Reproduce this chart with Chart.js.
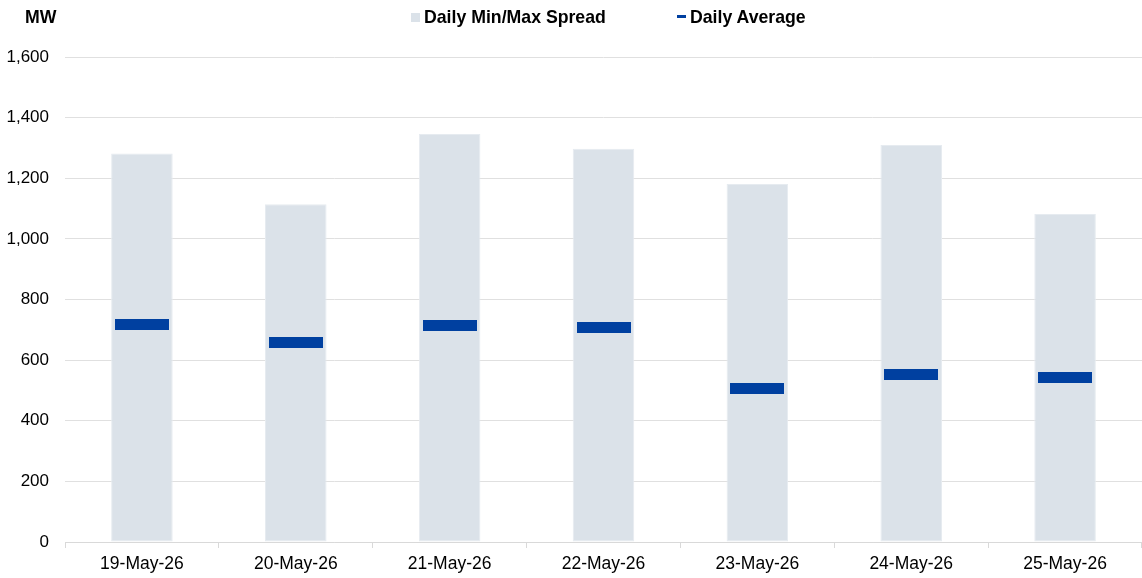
<!DOCTYPE html>
<html lang="en">
<head>
    <meta charset="UTF-8">
    <title>Daily Min/Max Spread</title>
    <script src="https://cdn.jsdelivr.net/npm/chart.js"></script>
    <style>
        body {
            margin: 0;
            overflow: hidden;
            background: #ffffff;
            font-family: "Liberation Sans", Arial, sans-serif;
        }
        .wrap {
            position: relative;
            width: 1147px;
            height: 578px;
        }
        .unit {
            position: absolute;
            left: 25px;
            top: 7px;
            font-weight: bold;
            font-size: 17.7px;
            color: #000;
        }
        .legend {
            position: absolute;
            top: 7px;
            font-weight: bold;
            font-size: 17.7px;
            color: #000;
            white-space: nowrap;
        }
        .legend .box {
            display: inline-block;
            width: 9px;
            height: 9px;
            background: #dbe2e9;
            margin-right: 4px;
            vertical-align: 1px;
        }
        .legend .dash {
            display: inline-block;
            width: 9px;
            height: 3px;
            background: #0040a0;
            margin-right: 4px;
            vertical-align: 5px;
        }
    </style>
</head>
<body>
    <div class="wrap">
        <canvas id="spreadChart" width="1147" height="578"></canvas>
        <div class="unit">MW</div>
        <div class="legend" style="left: 411px;"><span class="box"></span>Daily Min/Max Spread</div>
        <div class="legend" style="left: 677px;"><span class="dash"></span>Daily Average</div>
    </div>
    <script>
        // данные с картинки
        const days = ['19-May-26', '20-May-26', '21-May-26', '22-May-26', '23-May-26', '24-May-26', '25-May-26'];
        const dailyMin = [0, 0, 0, 0, 0, 0, 0];
        const dailyMax = [1282, 1114, 1346, 1297, 1181, 1310, 1082];
        const dailyAvg = [718, 658, 714, 709, 506, 553, 543];
        const yTicks = [0, 200, 400, 600, 800, 1000, 1200, 1400, 1600];

        // маркер среднего - синий прямоугольник
        const marker = document.createElement('canvas');
        marker.width = 54;
        marker.height = 11;
        const mctx = marker.getContext('2d');
        mctx.fillStyle = '#0040a0';
        mctx.fillRect(0, 0, 54, 11);

        const spread = days.map((d, i) => [dailyMin[i], dailyMax[i]]);
        const tickFont = { family: '"Liberation Sans", Arial, sans-serif', size: 17.5 };

        const ctx = document.getElementById('spreadChart').getContext('2d');
        new Chart(ctx, {
            data: {
                labels: days,
                datasets: [{
                    type: 'line',
                    label: 'Daily Average',
                    data: dailyAvg,
                    showLine: false,
                    pointStyle: marker,
                    order: 0
                }, {
                    type: 'bar',
                    label: 'Daily Min/Max Spread',
                    data: spread,
                    backgroundColor: '#dbe2e9',
                    borderColor: '#e6ebf0',
                    borderWidth: 1,
                    borderSkipped: false,
                    categoryPercentage: 1,
                    barPercentage: 0.4,
                    order: 1
                }]
            },
            options: {
                responsive: false,
                animation: false,
                layout: {
                    padding: { top: 57, left: 0, right: -4, bottom: 0 }
                },
                plugins: {
                    legend: { display: false },
                    tooltip: { enabled: false }
                },
                scales: {
                    x: {
                        afterFit: (axis) => {
                            axis.height = 36;
                        },
                        grid: {
                            offset: true,
                            drawOnChartArea: false,
                            drawTicks: true,
                            tickLength: 6,
                            color: '#d9d9d9'
                        },
                        border: { color: '#d9d9d9', width: 1 },
                        ticks: {
                            color: '#000',
                            padding: 6,
                            font: tickFont
                        }
                    },
                    y: {
                        min: 0,
                        max: 1600,
                        afterBuildTicks: (axis) => {
                            axis.ticks = yTicks.map(v => ({ value: v }));
                        },
                        afterFit: (axis) => {
                            axis.width = 65;
                        },
                        grid: {
                            color: '#e0e0e0',
                            drawTicks: false
                        },
                        border: { display: false },
                        ticks: {
                            color: '#000',
                            padding: 16,
                            font: { family: '"Liberation Sans", Arial, sans-serif', size: 17 }
                        }
                    }
                }
            }
        });
    </script>
</body>
</html>
